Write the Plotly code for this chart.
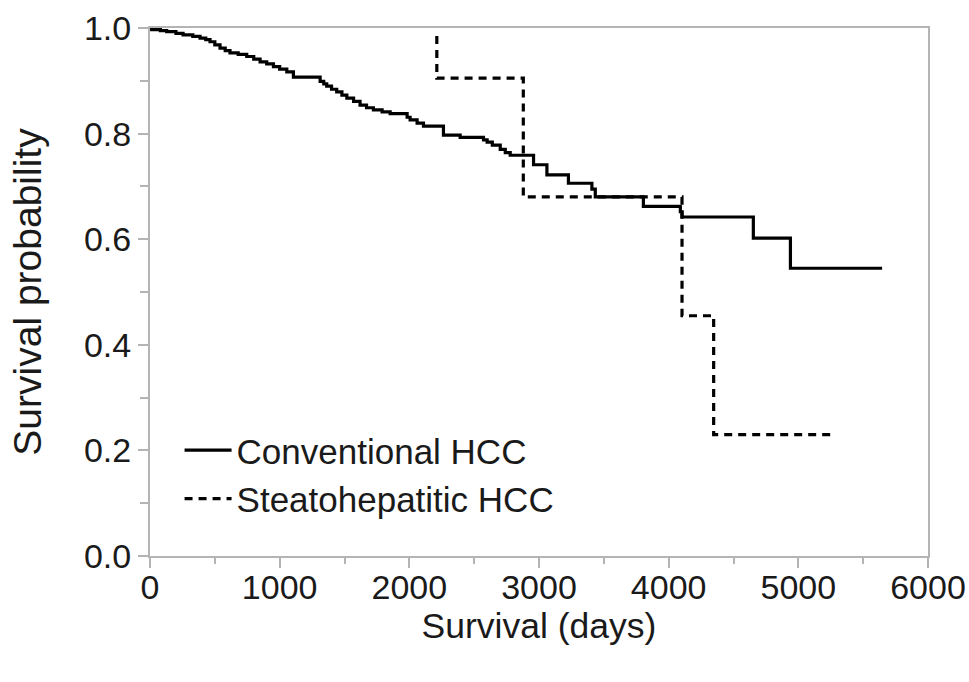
import plotly.graph_objects as go

# Conventional HCC Kaplan-Meier steps (days, survival probability)
conv_days = [0, 13, 80, 129, 200, 255, 330, 386, 430, 463, 500, 540, 580, 617, 680, 746, 800,
             849, 900, 952, 1000, 1055, 1106, 1312, 1340, 1363, 1400, 1440, 1480, 1518, 1570,
             1620, 1670, 1723, 1790, 1852, 1983, 2006, 2060, 2109, 2263, 2392, 2572, 2600,
             2640, 2701, 2740, 2778, 2958, 3061, 3227, 3408, 3434, 3805, 4090, 4103, 4653,
             4939, 5646]
conv_surv = [1.0, 0.997, 0.995, 0.993, 0.990, 0.987, 0.984, 0.981, 0.978, 0.974, 0.968, 0.962,
             0.957, 0.953, 0.950, 0.946, 0.941, 0.936, 0.932, 0.927, 0.922, 0.917, 0.907, 0.899,
             0.894, 0.890, 0.884, 0.879, 0.873, 0.867, 0.861, 0.854, 0.849, 0.845, 0.841, 0.838,
             0.831, 0.826, 0.820, 0.814, 0.797, 0.793, 0.788, 0.784, 0.778, 0.770, 0.764,
             0.759, 0.741, 0.722, 0.706, 0.695, 0.680, 0.662, 0.652, 0.642, 0.602, 0.545, 0.545]

# Steatohepatitic HCC steps
steato_days = [2212, 2212, 2879, 4103, 4347, 5286]
steato_surv = [0.985, 0.905, 0.68, 0.455, 0.23, 0.23]

series_names = ["Conventional HCC", "Steatohepatitic HCC"]

x_ticks = [0, 1000, 2000, 3000, 4000, 5000, 6000]
y_ticks = [0.0, 0.2, 0.4, 0.6, 0.8, 1.0]

FONT = "Liberation Sans, Arial, Helvetica, sans-serif"
AXC = "#b4b4b4"
TXT = "#1a1a1a"

fig = go.Figure()
fig.add_trace(go.Scatter(x=conv_days, y=conv_surv, mode="lines", line_shape="hv",
                         name=series_names[0],
                         line=dict(color="black", width=3.2)))
fig.add_trace(go.Scatter(x=steato_days, y=steato_surv, mode="lines", line_shape="hv",
                         name=series_names[1],
                         line=dict(color="black", width=3.2, dash="8px,6px")))

fig.update_layout(
    width=969, height=682,
    margin=dict(l=150, r=41, t=28, b=126),
    paper_bgcolor="white", plot_bgcolor="white",
    font=dict(family=FONT, size=34, color=TXT),
    showlegend=True,
    legend=dict(x=0.038, y=0.256, xanchor="left", yanchor="top",
                bgcolor="rgba(0,0,0,0)", borderwidth=0,
                font=dict(family=FONT, size=35, color=TXT),
                itemwidth=47, tracegroupgap=0),
    xaxis=dict(range=[0, 6000], tickvals=x_ticks, ticktext=[str(v) for v in x_ticks],
               automargin=False, ticklabelstandoff=-10,
               showgrid=False, zeroline=False, showline=True, mirror=True,
               linecolor=AXC, linewidth=2, ticks="outside", ticklen=10,
               tickcolor=AXC, tickwidth=1.5,
               tickfont=dict(family=FONT, size=34, color=TXT),
               minor=dict(dtick=500, ticks="outside", ticklen=6, tickcolor=AXC, tickwidth=1.5),
               title=dict(text="Survival (days)", font=dict(family=FONT, size=35.5, color=TXT),
                          standoff=4)),
    yaxis=dict(range=[0, 1], tickvals=y_ticks, tickformat=".1f",
               automargin=False,
               showgrid=False, zeroline=False, showline=True, mirror=True,
               linecolor=AXC, linewidth=2, ticks="outside", ticklen=10,
               tickcolor=AXC, tickwidth=1.5,
               tickfont=dict(family=FONT, size=34, color=TXT),
               minor=dict(dtick=0.1, ticks="outside", ticklen=8, tickcolor=AXC, tickwidth=1.5),
               title=dict(text="Survival probability", font=dict(family=FONT, size=39, color=TXT),
                          standoff=30)),
)

fig.write_html("out.html", config={"displayModeBar": False},
               post_script="document.body.style.margin='0';document.body.style.overflow='hidden';")
